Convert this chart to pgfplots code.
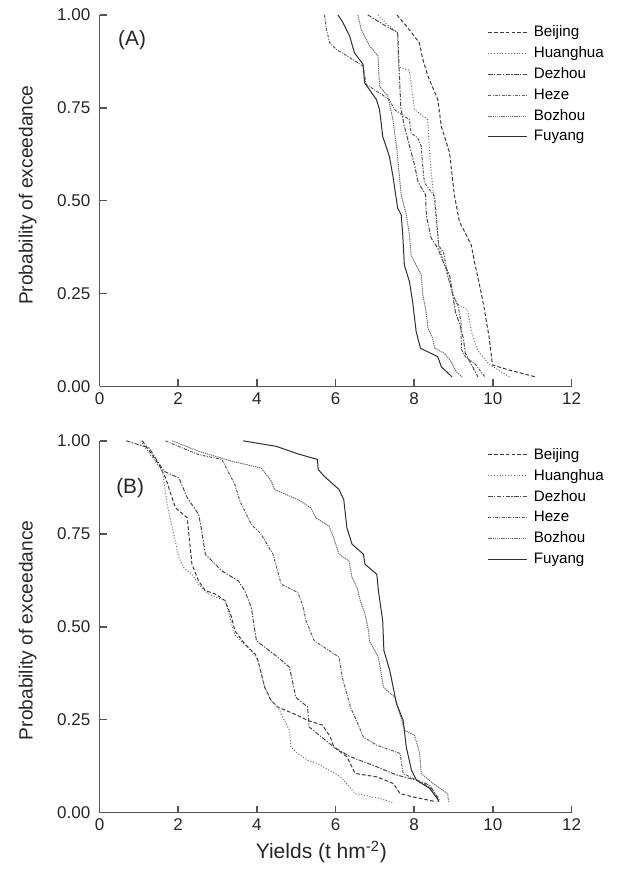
\documentclass[border=0pt]{standalone}
\usepackage{fontspec}
\setmainfont{Liberation Sans}
\usepackage{pgfplots}
\pgfplotsset{compat=1.18}

\definecolor{axgray}{HTML}{555555}
\definecolor{cBei}{HTML}{3A3A3A}
\definecolor{cHua}{HTML}{6E6E6E}
\definecolor{cDez}{HTML}{4A4A4A}
\definecolor{cHez}{HTML}{5E5E5E}
\definecolor{cBoz}{HTML}{707070}
\definecolor{cFuy}{HTML}{2E2E2E}

\pgfplotsset{
  exc/.style={
    scale only axis, width=283.2pt, height=223pt,
    xmin=0, xmax=12, ymin=0, ymax=1,
    axis lines=left,
    axis line style={-, axgray, line width=1pt},
    xtick={0,2,...,12}, ytick={0,0.25,0.5,0.75,1},
    yticklabel style={xshift=-2pt, /pgf/number format/fixed,
      /pgf/number format/fixed zerofill, /pgf/number format/precision=2},
    /pgf/number format/assume math mode=true,
    tick align=inside, major tick length=4.2pt,
    tick style={axgray, line width=1pt},
    tick label style={font=\fontsize{10.2}{12}\selectfont, text=black!85},
    label style={font=\fontsize{11.5}{13}\selectfont, text=black!85},
    legend style={draw=none, fill=none, inner sep=0pt,
      font=\fontsize{9.1}{11}\selectfont, row sep=2.3pt,
      nodes={inner sep=1.1pt},
      /tikz/every odd column/.append style={column sep=2.9pt}},
    legend cell align=left,
    legend image code/.code={\draw[##1] (0pt,0pt) -- (23pt,0pt);},
    every axis plot/.append style={line width=0.6pt, sharp plot},
  },
  sBei/.style={cBei, dash pattern=on 2.2pt off 1.3pt},
  sHua/.style={cHua, dash pattern=on 0.6pt off 1.1pt},
  sDez/.style={cDez, dash pattern=on 2.6pt off 0.9pt on 0.8pt off 0.9pt},
  sHez/.style={cHez, dash pattern=on 1.8pt off 0.8pt on 0.6pt off 0.8pt},
  sBoz/.style={cBoz, dash pattern=on 0.8pt off 0.5pt},
  sFuy/.style={cFuy},
}

\begin{document}
\begin{tikzpicture}
% ---------------- panel A
\begin{axis}[exc, at={(0pt,0pt)}, anchor=south west,
  ylabel={Probability of exceedance},
  ylabel style={at={(axis description cs:-0.152,0.515)}, anchor=center},
  legend style={at={(rel axis cs:0.822,0.976)}, anchor=north west}]
\addplot[sBei] coordinates {(7.56,1.0) (7.80,0.970) (8.13,0.925) (8.22,0.880) (8.35,0.835) (8.60,0.772) (8.69,0.700) (8.90,0.629) (9.02,0.516) (9.15,0.444) (9.45,0.381) (9.53,0.337) (9.66,0.274) (9.78,0.211) (9.91,0.130) (9.99,0.058) (10.42,0.044) (11.08,0.026)};
\addlegendentry{Beijing}
\addplot[sHua] coordinates {(7.08,1.0) (7.30,0.975) (7.58,0.952) (7.60,0.86) (7.88,0.85) (8.01,0.745) (8.34,0.718) (8.40,0.62) (8.49,0.516) (8.56,0.45) (8.63,0.377) (8.90,0.28) (9.07,0.224) (9.36,0.206) (9.45,0.15) (9.61,0.098) (9.90,0.06) (10.42,0.026)};
\addlegendentry{Huanghua}
\addplot[sDez] coordinates {(6.82,1.0) (7.20,0.975) (7.58,0.952) (7.62,0.85) (7.66,0.75) (7.75,0.70) (7.85,0.66) (8.00,0.60) (8.10,0.55) (8.29,0.516) (8.31,0.46) (8.43,0.40) (8.60,0.372) (8.73,0.337) (8.90,0.30) (8.98,0.247) (9.05,0.20) (9.15,0.17) (9.25,0.13) (9.30,0.09) (9.45,0.06) (9.62,0.026)};
\addlegendentry{Dezhou}
\addplot[sHez] coordinates {(5.72,1.0) (5.77,0.961) (5.85,0.925) (6.02,0.907) (6.44,0.880) (6.70,0.862) (6.78,0.813) (7.37,0.772) (7.50,0.745) (7.88,0.718) (7.92,0.682) (8.09,0.669) (8.18,0.646) (8.22,0.592) (8.26,0.548) (8.52,0.512) (8.57,0.45) (8.62,0.38) (8.75,0.36) (8.85,0.30) (8.98,0.247) (9.11,0.22) (9.19,0.175) (9.20,0.10) (9.30,0.08) (9.55,0.06) (9.80,0.026)};
\addlegendentry{Heze}
\addplot[sBoz] coordinates {(6.57,1.0) (6.65,0.961) (6.87,0.916) (7.08,0.889) (7.12,0.808) (7.33,0.781) (7.46,0.718) (7.56,0.637) (7.67,0.516) (7.80,0.462) (7.88,0.408) (7.92,0.354) (8.05,0.327) (8.18,0.300) (8.22,0.247) (8.30,0.202) (8.35,0.157) (8.47,0.130) (8.52,0.103) (8.77,0.089) (8.94,0.067) (9.07,0.040) (9.22,0.026)};
\addlegendentry{Bozhou}
\addplot[sFuy] coordinates {(6.06,1.0) (6.19,0.979) (6.36,0.943) (6.48,0.898) (6.70,0.867) (6.74,0.817) (7.04,0.772) (7.12,0.745) (7.20,0.673) (7.37,0.619) (7.46,0.566) (7.53,0.516) (7.58,0.480) (7.67,0.462) (7.71,0.408) (7.75,0.327) (7.88,0.282) (7.96,0.229) (8.05,0.148) (8.16,0.103) (8.60,0.080) (8.69,0.053) (8.96,0.026)};
\addlegendentry{Fuyang}
\node[font=\fontsize{12.5}{14}\selectfont, text=black!85] at (rel axis cs:0.069,0.931) {(A)};
\end{axis}
% ---------------- panel B
\begin{axis}[exc, at={(0pt,-255.6pt)}, anchor=south west,
  ylabel={Probability of exceedance},
  ylabel style={at={(axis description cs:-0.152,0.49)}, anchor=center},
  xlabel={Yields (t hm\textsuperscript{-2})},
  xlabel style={at={(axis description cs:0.47,-0.107)}, anchor=center,
    font=\fontsize{12.6}{14}\selectfont},
  legend style={at={(rel axis cs:0.822,0.986)}, anchor=north west}]
\addplot[sBei] coordinates {(1.09,1.0) (1.51,0.936) (1.68,0.900) (1.93,0.820) (2.23,0.793) (2.35,0.668) (2.52,0.623) (2.69,0.597) (2.94,0.588) (3.19,0.570) (3.36,0.525) (3.44,0.489) (3.69,0.454) (3.95,0.427) (4.03,0.409) (4.20,0.337) (4.36,0.302) (4.53,0.284) (5.04,0.261) (5.29,0.248) (5.67,0.235) (5.87,0.203) (5.96,0.176) (6.29,0.150) (6.50,0.105) (7.05,0.096) (7.47,0.078) (7.64,0.051) (7.97,0.042) (8.56,0.029)};
\addlegendentry{Beijing}
\addplot[sHua] coordinates {(1.05,1.0) (1.35,0.954) (1.60,0.918) (1.72,0.829) (1.85,0.766) (2.02,0.686) (2.14,0.659) (2.35,0.641) (2.52,0.614) (2.77,0.588) (3.19,0.570) (3.32,0.525) (3.40,0.489) (3.46,0.476) (3.69,0.452) (3.95,0.425) (4.03,0.407) (4.20,0.337) (4.36,0.302) (4.53,0.284) (4.70,0.248) (4.83,0.221) (4.87,0.176) (5.04,0.159) (5.29,0.141) (5.54,0.132) (6.13,0.096) (6.50,0.051) (7.13,0.038) (7.47,0.026)};
\addlegendentry{Huanghua}
\addplot[sDez] coordinates {(0.68,1.0) (1.26,0.981) (1.64,0.918) (2.02,0.900) (2.23,0.847) (2.52,0.802) (2.60,0.757) (2.69,0.695) (3.11,0.650) (3.53,0.623) (3.69,0.597) (3.86,0.552) (3.95,0.489) (3.99,0.462) (4.53,0.418) (4.83,0.391) (4.99,0.310) (5.29,0.284) (5.33,0.230) (5.96,0.176) (6.38,0.150) (7.05,0.123) (7.55,0.101) (8.06,0.087) (8.39,0.074) (8.64,0.034)};
\addlegendentry{Dezhou}
\addplot[sHez] coordinates {(1.68,1.0) (2.10,0.981) (2.52,0.963) (3.11,0.950) (3.44,0.883) (3.57,0.838) (3.86,0.775) (4.11,0.749) (4.41,0.695) (4.62,0.614) (5.04,0.592) (5.16,0.56) (5.25,0.516) (5.46,0.462) (6.09,0.418) (6.17,0.364) (6.38,0.284) (6.71,0.203) (7.05,0.181) (7.64,0.159) (7.72,0.105) (7.97,0.092) (8.39,0.069) (8.64,0.029)};
\addlegendentry{Heze}
\addplot[sBoz] coordinates {(1.85,1.0) (2.52,0.972) (3.36,0.945) (4.11,0.927) (4.37,0.891) (4.45,0.869) (5.04,0.842) (5.37,0.820) (5.50,0.793) (5.83,0.771) (5.92,0.749) (6.09,0.695) (6.34,0.677) (6.42,0.632) (6.55,0.605) (6.63,0.570) (6.75,0.534) (6.84,0.489) (6.86,0.462) (7.09,0.418) (7.22,0.337) (7.51,0.310) (7.76,0.221) (8.01,0.208) (8.14,0.159) (8.18,0.105) (8.48,0.078) (8.85,0.051) (8.88,0.029)};
\addlegendentry{Bozhou}
\addplot[sFuy] coordinates {(3.65,1.0) (4.50,0.985) (5.04,0.965) (5.54,0.950) (5.56,0.923) (5.71,0.905) (6.09,0.869) (6.21,0.842) (6.29,0.766) (6.42,0.722) (6.71,0.695) (6.75,0.668) (7.05,0.641) (7.09,0.597) (7.20,0.516) (7.23,0.436) (7.38,0.382) (7.55,0.293) (7.72,0.248) (7.80,0.176) (7.93,0.114) (8.06,0.087) (8.39,0.065) (8.56,0.042) (8.63,0.029)};
\addlegendentry{Fuyang}
\node[font=\fontsize{12.5}{14}\selectfont, text=black!85] at (rel axis cs:0.065,0.873) {(B)};
\end{axis}
\pgfresetboundingbox
\path[use as bounding box] (-59.7pt,-291.9pt) rectangle (312.3pt,231.9pt);
\end{tikzpicture}
\end{document}
